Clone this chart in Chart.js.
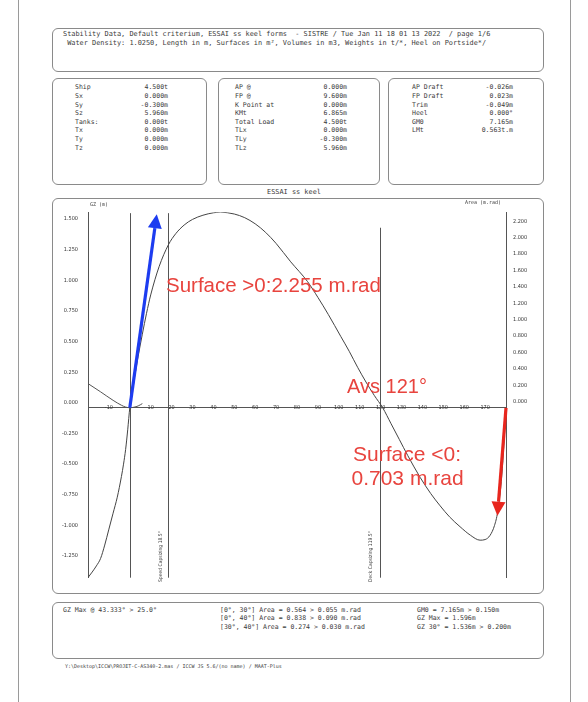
<!DOCTYPE html>
<html lang="en">
<head>
<meta charset="UTF-8">
<title>ESSAI ss keel - Stability</title>
<script src="https://cdn.jsdelivr.net/npm/chart.js@4.4.1/dist/chart.umd.min.js"></script>
<style>
  body { margin: 0; background: #fff; }
  #page { position: relative; width: 588px; height: 702px; overflow: hidden; font-family: "DejaVu Sans Mono", monospace; color: #3a3a3a; }
  .frame { position: absolute; left: 18px; top: -2px; width: 551px; height: 710px; border-left: 1px solid #9a9a9a; border-right: 1px solid #9a9a9a; }
  .box { position: absolute; border: 1px solid #8a8a8a; border-radius: 6px; }
  .t { position: absolute; white-space: pre; font-size: 6.5px; line-height: 8.6px; }
  .r { text-align: right; }
  .red { position: absolute; white-space: pre; font-family: "Liberation Sans", Arial, sans-serif; color: #e8443e; line-height: 20px; }
  .vt { position: absolute; white-space: pre; font-family: "DejaVu Sans Condensed", sans-serif; font-size: 5px; transform: rotate(-90deg); transform-origin: 0 0; }
  #chartWrap { position: absolute; left: 54px; top: 199px; width: 488px; height: 392px; }
</style>
</head>
<body>
<div id="page">
  <div class="frame"></div>

  <!-- header -->
  <div class="box" style="left:52px;top:28px;width:490px;height:42px;"></div>
  <div class="t" style="left:63px;top:30px;font-size:6.9px;line-height:9px;">Stability Data, Default criterium, ESSAI ss keel forms  - SISTRE / Tue Jan 11 18 01 13 2022  / page 1/6
 Water Density: 1.0250, Length in m, Surfaces in m², Volumes in m3, Weights in t/*, Heel on Portside*/</div>

  <!-- info boxes -->
  <div class="box" style="left:52px;top:78px;width:153px;height:105px;"></div>
  <div class="box" style="left:218px;top:78px;width:160px;height:105px;"></div>
  <div class="box" style="left:388px;top:78px;width:154px;height:105px;"></div>
  <div class="t" id="b1l" style="left:75px;top:83.4px;"></div>
  <div class="t r" id="b1v" style="left:118px;top:83.4px;width:50px;"></div>
  <div class="t" id="b2l" style="left:235px;top:83.4px;"></div>
  <div class="t r" id="b2v" style="left:297px;top:83.4px;width:50px;"></div>
  <div class="t" id="b3l" style="left:412px;top:83.4px;"></div>
  <div class="t r" id="b3v" style="left:463px;top:83.4px;width:50px;"></div>

  <!-- chart -->
  <div class="t" style="left:267px;top:188px;font-size:6.9px;">ESSAI ss keel</div>
  <div class="box" style="left:52px;top:198px;width:490px;height:394px;"></div>
  <div id="chartWrap"><canvas id="gzChart"></canvas></div>
  <div class="t" style="left:90px;top:200px;font-size:5px;">GZ (m)</div>
  <div class="t" style="left:465px;top:198px;font-size:5px;">Area (m.rad)</div>
  <div class="vt" style="left:157px;top:582px;">Speed Capsizing 18.5°</div>
  <div class="vt" style="left:367px;top:582px;">Deck Capsizing 119.5°</div>

  <div class="red" style="left:166px;top:275px;font-size:20.5px;">Surface &gt;0:2.255 m.rad</div>
  <div class="red" style="left:347px;top:376px;font-size:20px;">Avs 121°</div>
  <div class="red" style="left:353px;top:444px;font-size:21px;">Surface &lt;0:</div>
  <div class="red" style="left:351.5px;top:468px;font-size:21px;">0.703 m.rad</div>

  <!-- criteria -->
  <div class="box" style="left:52px;top:602px;width:490px;height:55px;"></div>
  <div class="t" style="left:63px;top:605.7px;">GZ Max @ 43.333° &gt; 25.0°</div>
  <div class="t" style="left:220px;top:605.7px;">[0°, 30°] Area = 0.564 &gt; 0.055 m.rad
[0°, 40°] Area = 0.838 &gt; 0.090 m.rad
[30°, 40°] Area = 0.274 &gt; 0.030 m.rad</div>
  <div class="t" style="left:417px;top:605.7px;">GM0 = 7.165m &gt; 0.150m
GZ Max = 1.596m
GZ 30° = 1.536m &gt; 0.200m</div>

  <div class="t" style="left:65px;top:662px;font-size:5px;">Y:\Desktop\ICCW\PROJET-C-AS340-2.mas / ICCW JS 5.6/(no name) / MAAT-Plus</div>
</div>

<script>
  // info box contents
  const shipLabels = ['Ship', 'Sx', 'Sy', 'Sz', 'Tanks:', 'Tx', 'Ty', 'Tz'];
  const shipValues = ['4.500t', '0.000m', '-0.300m', '5.960m', '0.000t', '0.000m', '0.000m', '0.000m'];
  const loadLabels = ['AP @', 'FP @', 'K Point at', 'KMt', 'Total Load', 'TLx', 'TLy', 'TLz'];
  const loadValues = ['0.000m', '9.600m', '0.000m', '6.865m', '4.500t', '0.000m', '-0.300m', '5.960m'];
  const draftLabels = ['AP Draft', 'FP Draft', 'Trim', 'Heel', 'GM0', 'LMt'];
  const draftValues = ['-0.026m', '0.023m', '-0.049m', '0.000°', '7.165m', '0.563t.m'];

  // GZ curve (heel in degrees, GZ in m)
  const heelDeg = [-20, -18, -16, -14, -12, -10, -8, -6, -4, -3, -2, -1, 0, 2, 4, 6, 8, 10, 14, 18.5, 22, 26, 30, 35, 40, 43.3,
    50, 55, 60, 65, 70, 77, 85, 90, 95, 101, 105, 109, 113, 117, 121, 125, 129, 133, 139, 144, 148.5, 153, 158, 163, 167.6,
    170, 172.4, 174.5, 176, 178, 180];
  const gzValues = [-1.385, -1.34, -1.29, -1.23, -1.12, -0.99, -0.86, -0.73, -0.56, -0.46, -0.34, -0.18, 0, 0.22, 0.42, 0.6, 0.77, 0.92, 1.15, 1.33, 1.42, 1.49, 1.536, 1.57, 1.59, 1.596,
    1.58, 1.55, 1.5, 1.43, 1.34, 1.19, 1.03, 0.9, 0.76, 0.58, 0.46, 0.33, 0.21, 0.1, 0, -0.13, -0.26, -0.39, -0.57, -0.7, -0.8, -0.89, -0.97, -1.04, -1.08,
    -1.075, -1.04, -0.96, -0.85, -0.55, 0];

  // visible part of the area curve (m.rad)
  const areaDeg = [-20, -14, -8, -4, -2, 0, 2, 4, 6];
  const areaValues = [0.294, 0.194, 0.09, 0.03, 0.008, 0, 0.006, 0.022, 0.05];

  // criteria lines: angle and top of the line (GZ units)
  const criteriaAngles = [0, 18.5, 119.5];
  const criteriaTops = [1.587, 1.587, 1.468];

  // annotation arrows [heel, GZ]
  const blueArrow = [[0, 0], [12.9, 1.578]];
  const redArrow = [[180, 0], [175.9, -0.88]];

  const xTicks = [-10, 10, 20, 30, 40, 50, 60, 70, 80, 90, 100, 110, 120, 130, 140, 150, 160, 170];
  const gzTicks = [-1.25, -1, -0.75, -0.5, -0.25, 0, 0.25, 0.5, 0.75, 1, 1.25, 1.5];
  const areaTicks = [0, 0.2, 0.4, 0.6, 0.8, 1, 1.2, 1.4, 1.6, 1.8, 2, 2.2];

  function fillBox(id, rows) {
    document.getElementById(id).textContent = rows.join('\n');
  }
  fillBox('b1l', shipLabels); fillBox('b1v', shipValues);
  fillBox('b2l', loadLabels); fillBox('b2v', loadValues);
  fillBox('b3l', draftLabels); fillBox('b3v', draftValues);

  const tickFont = { family: 'DejaVu Sans Condensed', size: 5.5 };

  function drawArrow(ctx, chart, pts, color) {
    const x = chart.scales.x, y = chart.scales.y;
    const x0 = x.getPixelForValue(pts[0][0]), y0 = y.getPixelForValue(pts[0][1]);
    const x1 = x.getPixelForValue(pts[1][0]), y1 = y.getPixelForValue(pts[1][1]);
    const ang = Math.atan2(y1 - y0, x1 - x0);
    const headLen = 14, headW = 7;
    const bx = x1 - headLen * Math.cos(ang), by = y1 - headLen * Math.sin(ang);
    ctx.save();
    ctx.strokeStyle = color;
    ctx.fillStyle = color;
    ctx.lineWidth = 3.2;
    ctx.beginPath();
    ctx.moveTo(x0, y0);
    ctx.lineTo(bx, by);
    ctx.stroke();
    ctx.beginPath();
    ctx.moveTo(x1, y1);
    ctx.lineTo(bx + headW * Math.sin(ang), by - headW * Math.cos(ang));
    ctx.lineTo(bx - headW * Math.sin(ang), by + headW * Math.cos(ang));
    ctx.closePath();
    ctx.fill();
    ctx.restore();
  }

  const markings = {
    id: 'markings',
    beforeDatasetsDraw(chart) {
      const ctx = chart.ctx, x = chart.scales.x, y = chart.scales.y;
      ctx.save();
      ctx.strokeStyle = '#555';
      ctx.lineWidth = 1;
      criteriaAngles.forEach((a, i) => {
        const px = Math.round(x.getPixelForValue(a)) + 0.5;
        ctx.beginPath();
        ctx.moveTo(px, y.getPixelForValue(criteriaTops[i]));
        ctx.lineTo(px, chart.chartArea.bottom);
        ctx.stroke();
      });
      ctx.restore();
    },
    afterDatasetsDraw(chart) {
      drawArrow(chart.ctx, chart, blueArrow, '#1d3cf0');
      drawArrow(chart.ctx, chart, redArrow, '#e8261e');
    }
  };

  new Chart(document.getElementById('gzChart'), {
    type: 'line',
    data: {
      datasets: [
        {
          label: 'GZ',
          data: heelDeg.map((d, i) => ({ x: d, y: gzValues[i] })),
          borderColor: '#444',
          borderWidth: 1,
          pointRadius: 0,
          cubicInterpolationMode: 'monotone',
          yAxisID: 'y'
        },
        {
          label: 'Area',
          data: areaDeg.map((d, i) => ({ x: d, y: areaValues[i] })),
          borderColor: '#555',
          borderWidth: 1,
          pointRadius: 0,
          cubicInterpolationMode: 'monotone',
          yAxisID: 'y2'
        }
      ]
    },
    options: {
      responsive: true,
      maintainAspectRatio: false,
      animation: false,
      events: [],
      layout: { padding: { left: 0, right: 0, top: 9, bottom: 9 } },
      plugins: { legend: { display: false }, tooltip: { enabled: false } },
      scales: {
        x: {
          type: 'linear',
          min: -20,
          max: 180,
          position: { y: 0 },
          afterBuildTicks: s => { s.ticks = xTicks.map(v => ({ value: v })); },
          grid: { display: false, drawTicks: false },
          border: { display: true, color: '#555', width: 1 },
          ticks: { font: tickFont, color: '#333', padding: -3, maxRotation: 0, autoSkip: false }
        },
        y: {
          position: 'left',
          min: -1.386,
          max: 1.594,
          afterFit: s => { s.width = 34; },
          afterBuildTicks: s => { s.ticks = gzTicks.map(v => ({ value: v })); },
          grid: { display: false, drawTicks: false },
          border: { display: true, color: '#555', width: 1 },
          ticks: { font: tickFont, color: '#333', padding: 10, labelOffset: -5, callback: v => v.toFixed(3) }
        },
        y2: {
          position: 'right',
          min: -2.071,
          max: 2.381,
          afterFit: s => { s.width = 36; },
          afterBuildTicks: s => { s.ticks = areaTicks.map(v => ({ value: v })); },
          grid: { display: false, drawTicks: false },
          border: { display: true, color: '#555', width: 1 },
          ticks: { font: tickFont, color: '#333', padding: 7, labelOffset: -6, callback: v => v.toFixed(3) }
        }
      }
    },
    plugins: [markings]
  });
</script>
</body>
</html>
